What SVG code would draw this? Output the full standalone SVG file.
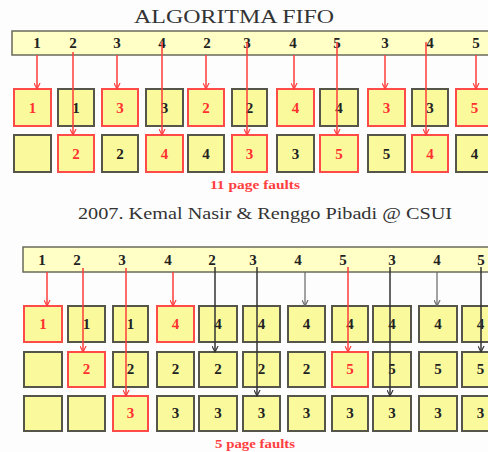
<svg xmlns="http://www.w3.org/2000/svg" width="488" height="452" viewBox="0 0 488 452">
<style>
.bg{fill:#fdfdfd}
.bar{fill:#ffffc6;stroke:#6a6a5a;stroke-width:1.5}
.bx{fill:#fafa9c;stroke:#55554a;stroke-width:2}
.rb{fill:#fafa9c;stroke:#ff4a4a;stroke-width:2}
.t{font-family:"Liberation Serif","Times New Roman",serif;font-weight:bold;font-size:15px;text-anchor:middle;fill:#222}
.tr{font-family:"Liberation Serif","Times New Roman",serif;font-weight:bold;font-size:15px;text-anchor:middle;fill:#ff3030}
.title{font-family:"Liberation Serif","Times New Roman",serif;font-size:19px;fill:#333}
.cred{font-family:"Liberation Serif","Times New Roman",serif;font-size:17px;fill:#333}
.pf{font-family:"Liberation Serif","Times New Roman",serif;font-weight:bold;font-size:13px;fill:#ff4040}
.lr{stroke:#ff3b3b;stroke-width:1.5;fill:none;marker-end:url(#ar)}
.lk{stroke:#333;stroke-width:1.5;fill:none;marker-end:url(#ak)}
.lg{stroke:#666;stroke-width:1.2;fill:none;marker-end:url(#ag)}
</style>
<defs>
<marker id="ar" viewBox="0 0 8 8" refX="7" refY="4" markerWidth="7" markerHeight="7" markerUnits="userSpaceOnUse" orient="auto"><path d="M0,0.5 L7,4 L0,7.5" fill="none" stroke="#ff3b3b" stroke-width="1.3"/></marker>
<marker id="ak" viewBox="0 0 8 8" refX="7" refY="4" markerWidth="7" markerHeight="7" markerUnits="userSpaceOnUse" orient="auto"><path d="M0,0.5 L7,4 L0,7.5" fill="none" stroke="#333" stroke-width="1.3"/></marker>
<marker id="ag" viewBox="0 0 8 8" refX="7" refY="4" markerWidth="7" markerHeight="7" markerUnits="userSpaceOnUse" orient="auto"><path d="M0,0.5 L7,4 L0,7.5" fill="none" stroke="#666" stroke-width="1.3"/></marker>
</defs>
<rect class="bg" x="0" y="0" width="488" height="452"/>

<text class="title" x="134" y="23" textLength="200" lengthAdjust="spacingAndGlyphs">ALGORITMA FIFO</text>

<g id="ref1">
<rect class="bar" x="12" y="31" width="490" height="24"/>
<text class="t" x="37" y="48">1</text><text class="t" x="73" y="48">2</text><text class="t" x="117" y="48">3</text><text class="t" x="162" y="48">4</text><text class="t" x="207" y="48">2</text><text class="t" x="247" y="48">3</text><text class="t" x="293" y="48">4</text><text class="t" x="337" y="48">5</text><text class="t" x="385" y="48">3</text><text class="t" x="430" y="48">4</text><text class="t" x="476" y="48">5</text>
</g>

<g id="a-r1">
<g id="a11"><rect class="rb" x="14" y="89" width="37" height="37"/><text class="tr" x="32.5" y="113">1</text></g>
<g id="a12"><rect class="bx" x="58" y="89" width="36" height="37"/><text class="t" x="76" y="113">1</text></g>
<g id="a13"><rect class="rb" x="102" y="89" width="36" height="37"/><text class="tr" x="120" y="113">3</text></g>
<g id="a14"><rect class="bx" x="146" y="89" width="37" height="37"/><text class="t" x="164.5" y="113">3</text></g>
<g id="a15"><rect class="rb" x="188" y="89" width="36" height="37"/><text class="tr" x="206" y="113">2</text></g>
<g id="a16"><rect class="bx" x="232" y="89" width="35" height="37"/><text class="t" x="249.5" y="113">2</text></g>
<g id="a17"><rect class="rb" x="277" y="89" width="37" height="37"/><text class="tr" x="295.5" y="113">4</text></g>
<g id="a18"><rect class="bx" x="320" y="89" width="38" height="37"/><text class="t" x="339" y="113">4</text></g>
<g id="a19"><rect class="rb" x="368" y="89" width="37" height="37"/><text class="tr" x="386.5" y="113">3</text></g>
<g id="a110"><rect class="bx" x="412" y="89" width="36" height="37"/><text class="t" x="430" y="113">3</text></g>
<g id="a111"><rect class="rb" x="456" y="89" width="37" height="37"/><text class="tr" x="474.5" y="113">5</text></g>
</g>
<g id="a-r2">
<g id="a21"><rect class="bx" x="14" y="135" width="37" height="37"/></g>
<g id="a22"><rect class="rb" x="58" y="135" width="36" height="37"/><text class="tr" x="76" y="159">2</text></g>
<g id="a23"><rect class="bx" x="102" y="135" width="36" height="37"/><text class="t" x="120" y="159">2</text></g>
<g id="a24"><rect class="rb" x="146" y="135" width="37" height="37"/><text class="tr" x="164.5" y="159">4</text></g>
<g id="a25"><rect class="bx" x="188" y="135" width="36" height="37"/><text class="t" x="206" y="159">4</text></g>
<g id="a26"><rect class="rb" x="232" y="135" width="35" height="37"/><text class="tr" x="249.5" y="159">3</text></g>
<g id="a27"><rect class="bx" x="277" y="135" width="37" height="37"/><text class="t" x="295.5" y="159">3</text></g>
<g id="a28"><rect class="rb" x="320" y="135" width="38" height="37"/><text class="tr" x="339" y="159">5</text></g>
<g id="a29"><rect class="bx" x="368" y="135" width="37" height="37"/><text class="t" x="386.5" y="159">5</text></g>
<g id="a210"><rect class="rb" x="412" y="135" width="36" height="37"/><text class="tr" x="430" y="159">4</text></g>
<g id="a211"><rect class="bx" x="456" y="135" width="37" height="37"/><text class="t" x="474.5" y="159">4</text></g>
</g>

<text class="pf" x="210" y="189" textLength="90" lengthAdjust="spacingAndGlyphs">11 page faults</text>
<text class="cred" x="78" y="219" textLength="374" lengthAdjust="spacingAndGlyphs">2007. Kemal Nasir &amp; Renggo Pibadi @ CSUI</text>

<g id="ref2">
<rect class="bar" x="23" y="247" width="480" height="25"/>
<text class="t" x="42" y="265">1</text><text class="t" x="77" y="265">2</text><text class="t" x="122" y="265">3</text><text class="t" x="168" y="265">4</text><text class="t" x="212" y="265">2</text><text class="t" x="253" y="265">3</text><text class="t" x="298" y="265">4</text><text class="t" x="343" y="265">5</text><text class="t" x="392" y="265">3</text><text class="t" x="437" y="265">4</text><text class="t" x="481" y="265">5</text>
</g>

<g id="b-r1">
<g id="b11"><rect class="rb" x="24" y="306" width="38" height="36"/><text class="tr" x="43" y="329">1</text></g>
<g id="b12"><rect class="bx" x="68" y="306" width="37" height="36"/><text class="t" x="86.5" y="329">1</text></g>
<g id="b13"><rect class="bx" x="113" y="306" width="35" height="36"/><text class="t" x="130.5" y="329">1</text></g>
<g id="b14"><rect class="rb" x="157" y="306" width="37" height="36"/><text class="tr" x="175.5" y="329">4</text></g>
<g id="b15"><rect class="bx" x="199" y="306" width="38" height="36"/><text class="t" x="218" y="329">4</text></g>
<g id="b16"><rect class="bx" x="243" y="306" width="37" height="36"/><text class="t" x="261.5" y="329">4</text></g>
<g id="b17"><rect class="bx" x="288" y="306" width="37" height="36"/><text class="t" x="306.5" y="329">4</text></g>
<g id="b18"><rect class="bx" x="332" y="306" width="36" height="36"/><text class="t" x="350" y="329">4</text></g>
<g id="b19"><rect class="bx" x="373" y="306" width="38" height="36"/><text class="t" x="392" y="329">4</text></g>
<g id="b110"><rect class="bx" x="419" y="306" width="38" height="36"/><text class="t" x="438" y="329">4</text></g>
<g id="b111"><rect class="bx" x="462" y="306" width="37" height="36"/><text class="t" x="480.5" y="329">4</text></g>
</g>
<g id="b-r2">
<g id="b21"><rect class="bx" x="24" y="352" width="38" height="35"/></g>
<g id="b22"><rect class="rb" x="68" y="352" width="37" height="35"/><text class="tr" x="86.5" y="374">2</text></g>
<g id="b23"><rect class="bx" x="113" y="352" width="35" height="35"/><text class="t" x="130.5" y="374">2</text></g>
<g id="b24"><rect class="bx" x="157" y="352" width="37" height="35"/><text class="t" x="175.5" y="374">2</text></g>
<g id="b25"><rect class="bx" x="199" y="352" width="38" height="35"/><text class="t" x="218" y="374">2</text></g>
<g id="b26"><rect class="bx" x="243" y="352" width="37" height="35"/><text class="t" x="261.5" y="374">2</text></g>
<g id="b27"><rect class="bx" x="288" y="352" width="37" height="35"/><text class="t" x="306.5" y="374">2</text></g>
<g id="b28"><rect class="rb" x="332" y="352" width="36" height="35"/><text class="tr" x="350" y="374">5</text></g>
<g id="b29"><rect class="bx" x="373" y="352" width="38" height="35"/><text class="t" x="392" y="374">5</text></g>
<g id="b210"><rect class="bx" x="419" y="352" width="38" height="35"/><text class="t" x="438" y="374">5</text></g>
<g id="b211"><rect class="bx" x="462" y="352" width="37" height="35"/><text class="t" x="480.5" y="374">5</text></g>
</g>
<g id="b-r3">
<g id="b31"><rect class="bx" x="24" y="396" width="38" height="35"/></g>
<g id="b32"><rect class="bx" x="68" y="396" width="37" height="35"/></g>
<g id="b33"><rect class="rb" x="113" y="396" width="35" height="35"/><text class="tr" x="130.5" y="418">3</text></g>
<g id="b34"><rect class="bx" x="157" y="396" width="37" height="35"/><text class="t" x="175.5" y="418">3</text></g>
<g id="b35"><rect class="bx" x="199" y="396" width="38" height="35"/><text class="t" x="218" y="418">3</text></g>
<g id="b36"><rect class="bx" x="243" y="396" width="37" height="35"/><text class="t" x="261.5" y="418">3</text></g>
<g id="b37"><rect class="bx" x="288" y="396" width="37" height="35"/><text class="t" x="306.5" y="418">3</text></g>
<g id="b38"><rect class="bx" x="332" y="396" width="36" height="35"/><text class="t" x="350" y="418">3</text></g>
<g id="b39"><rect class="bx" x="373" y="396" width="38" height="35"/><text class="t" x="392" y="418">3</text></g>
<g id="b310"><rect class="bx" x="419" y="396" width="38" height="35"/><text class="t" x="438" y="418">3</text></g>
<g id="b311"><rect class="bx" x="462" y="396" width="37" height="35"/><text class="t" x="480.5" y="418">3</text></g>
</g>

<text class="pf" x="215" y="448" textLength="80" lengthAdjust="spacingAndGlyphs">5 page faults</text>

<g id="connectors">
<line class="lr" x1="37" y1="55" x2="37" y2="89"/>
<line class="lr" x1="73" y1="52" x2="73" y2="135"/>
<line class="lr" x1="117" y1="55" x2="117" y2="89"/>
<line class="lr" x1="162" y1="42" x2="162" y2="135"/>
<line class="lr" x1="206" y1="55" x2="206" y2="89"/>
<line class="lr" x1="247" y1="42" x2="247" y2="135"/>
<line class="lr" x1="294" y1="55" x2="294" y2="89"/>
<line class="lr" x1="337" y1="42" x2="337" y2="135"/>
<line class="lr" x1="385" y1="55" x2="385" y2="89"/>
<line class="lr" x1="426" y1="42" x2="426" y2="135"/>
<line class="lr" x1="476" y1="55" x2="476" y2="89"/>

<line class="lr" x1="47" y1="272" x2="47" y2="306"/>
<line class="lr" x1="83" y1="268" x2="83" y2="352"/>
<line class="lr" x1="126" y1="268" x2="126" y2="396"/>
<line class="lr" x1="173" y1="272" x2="173" y2="306"/>
<line class="lk" x1="215" y1="267" x2="215" y2="352"/>
<line class="lk" x1="257" y1="267" x2="257" y2="396"/>
<line class="lg" x1="305" y1="272" x2="305" y2="306"/>
<line class="lr" x1="348" y1="267" x2="348" y2="352"/>
<line class="lk" x1="390" y1="267" x2="390" y2="396"/>
<line class="lg" x1="437" y1="272" x2="437" y2="306"/>
<line class="lk" x1="481" y1="267" x2="481" y2="352"/>
</g>
</svg>
